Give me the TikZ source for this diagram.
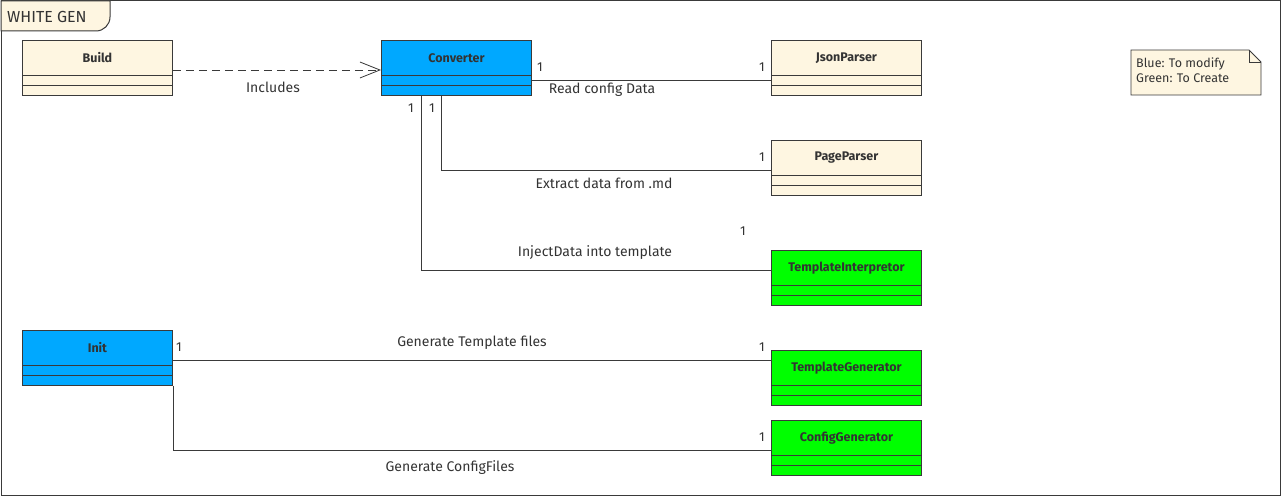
\documentclass[tikz,border=0pt]{standalone}
\usepackage{fontspec}
\setmainfont{Fira Sans}
\usetikzlibrary{calc,arrows.meta}
\definecolor{cream}{HTML}{FEF6E1}
\definecolor{ublue}{HTML}{00A8FF}
\definecolor{ugreen}{HTML}{00FF00}
\definecolor{edge}{HTML}{3A3A3A}
\definecolor{txt}{HTML}{333333}
\tikzset{
  clsbox/.style={draw=edge, line width=0.9pt, minimum width=150pt, minimum height=55pt, anchor=north west, inner sep=0pt},
  clsname/.style={font=\fontsize{12.5}{14}\selectfont\bfseries, text=txt},
  conn/.style={draw=edge, line width=0.8pt},
  lbl/.style={font=\fontsize{14}{16}\selectfont, text=txt, inner sep=0pt},
  mult/.style={font=\fontsize{13}{15}\selectfont, text=txt, inner sep=0pt},
  opentip/.style={-{Straight Barb[length=20pt,width=16pt,line width=0.8pt]}},
}
\newcommand{\classbox}[5]{%
  \node[clsbox, fill=#4] (#1) at (#2,#3) {};
  \node[clsname] (#1-name) at ($(#1.north)+(0,18)$) {#5};
  \draw[draw=edge, line width=0.9pt] ($(#1.north west)+(0,35)$) -- ($(#1.north east)+(0,35)$);
  \draw[draw=edge, line width=0.9pt] ($(#1.north west)+(0,45)$) -- ($(#1.north east)+(0,45)$);
}
\begin{document}
\begin{tikzpicture}[x=1pt,y=-1pt]
\useasboundingbox (0,0) rectangle (1282,497);
% frame
\draw[draw=edge, line width=1pt] (1,1) rectangle (1280,495);
\filldraw[fill=cream, draw=edge, line width=1pt] (1,1) -- (110,1) -- (110,16) [rounded corners=14pt] -- (110,31) [sharp corners] -- (1,31) -- cycle;
\node[font=\fontsize{16}{18}\selectfont, text=txt, anchor=west, inner sep=0pt] (frametitle) at (7,17) {WHITE GEN};
% classes
\classbox{build}{22}{40}{cream}{Build}
\classbox{conv}{381}{40}{ublue}{Converter}
\classbox{json}{771}{40}{cream}{JsonParser}
\classbox{page}{771}{140}{cream}{PageParser}
\classbox{ti}{771}{250}{ugreen}{TemplateInterpretor}
\classbox{init}{22}{330}{ublue}{Init}
\classbox{tg}{771}{350}{ugreen}{TemplateGenerator}
\classbox{cg}{771}{420}{ugreen}{ConfigGenerator}
% note
\filldraw[fill=cream, draw=edge, line width=0.8pt] (1131,50) -- (1249,50) -- (1261,62) -- (1261,95) -- (1131,95) -- cycle;
\draw[draw=edge, line width=0.8pt] (1249,50) -- (1249,62) -- (1261,62);
\node[font=\fontsize{12.5}{15}\selectfont, text=txt, anchor=north west, align=left, inner sep=0pt] (note) at (1136,58) {Blue: To modify\\Green: To Create};
% connectors
\draw[conn, dashed, dash pattern=on 8pt off 5pt, opentip] ($(build.north east)+(0,30)$) -- ($(conv.north west)+(0,30)$);
\node[lbl] (l1) at (273,87) {Includes};
\draw[conn] ($(conv.north east)+(0,40)$) -- ($(json.north west)+(0,40)$);
\node[lbl] (l2) at (602,90) {Read config Data};
\node[mult] (m1) at (540,67) {1};
\node[mult] (m2) at (762,67) {1};
\draw[conn] ($(conv.south west)+(60,0)$) |- ($(page.north west)+(0,30)$);
\node[lbl] (l3) at (604,183) {Extract data from .md};
\node[mult] (m3) at (432,108) {1};
\node[mult] (m4) at (762,157) {1};
\draw[conn] ($(conv.south west)+(40,0)$) |- ($(ti.north west)+(0,20)$);
\node[lbl] (l4) at (595,253) {InjectData into template};
\node[mult] (m5) at (411,108) {1};
\node[mult] (m6) at (743,231) {1};
\draw[conn] ($(init.north east)+(0,30)$) -- ($(tg.north west)+(0,10)$);
\node[lbl] (l5) at (472,343) {Generate Template files};
\node[mult] (m7) at (179,347) {1};
\node[mult] (m8) at (762,347) {1};
\draw[conn] (init.south east) |- ($(cg.north west)+(0,30)$);
\node[lbl] (l6) at (450,468) {Generate ConfigFiles};
\node[mult] (m9) at (762,437) {1};
\end{tikzpicture}
\end{document}
